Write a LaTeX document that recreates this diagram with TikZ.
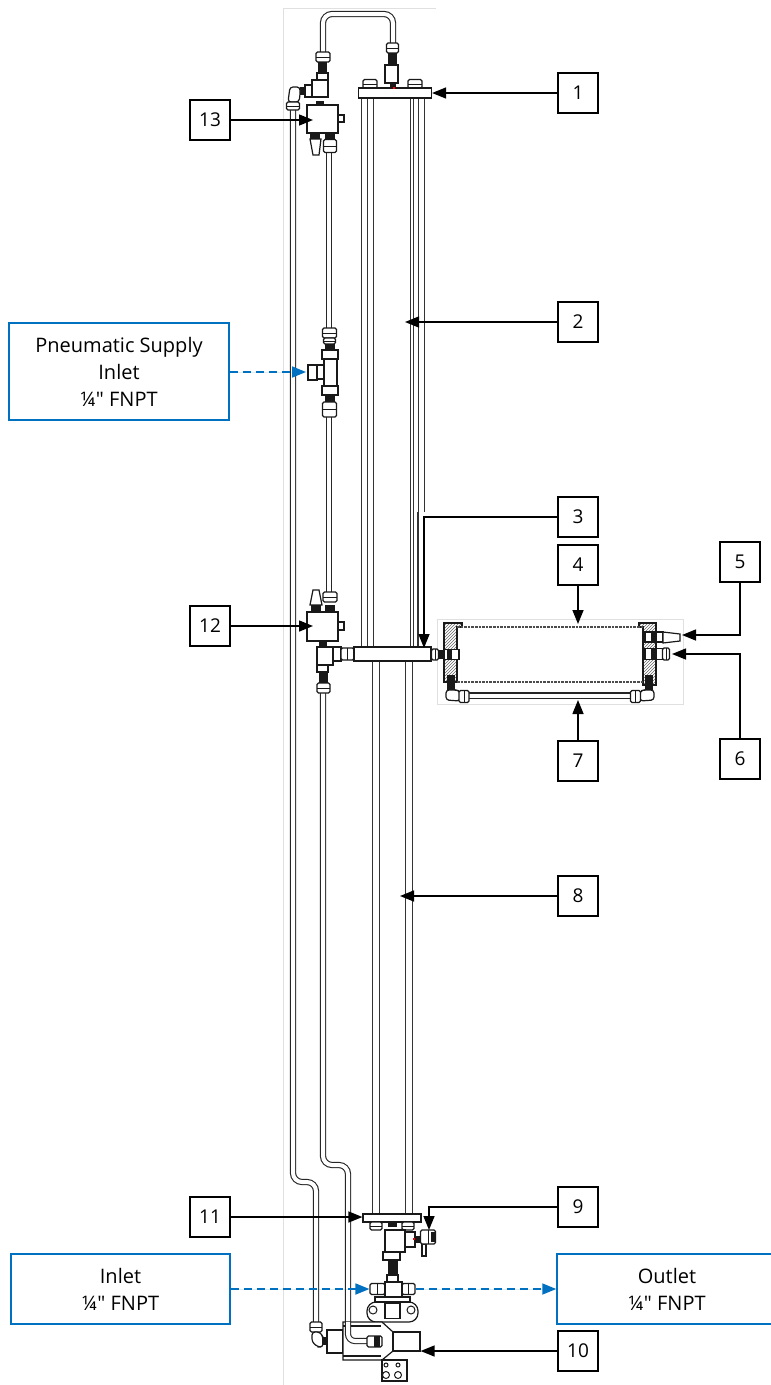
\documentclass[tikz,border=0pt]{standalone}
\usepackage{fontspec}
\setmainfont{Open Sans}[Ligatures=TeXOff]
\usepackage{xcolor}
\usepackage{tikz}
\usetikzlibrary{arrows.meta,patterns}
\definecolor{calloutblue}{HTML}{0070C0}

\begin{document}
\begin{tikzpicture}[
    x=1pt, y=-1pt,
    numbox/.style={rectangle, draw, line width=1.5pt, fill=white, minimum width=40pt, minimum height=40pt, font=\fontsize{19}{22}\selectfont},
    callout/.style={rectangle, draw=calloutblue, line width=1.5pt, fill=white, align=center, font=\fontsize{20}{27}\selectfont},
    arrow/.style={-{Triangle[length=14pt,width=11pt]}, line width=1.5pt},
    bluearrow/.style={-{Triangle[length=14pt,width=11pt]}, draw=calloutblue, fill=calloutblue, line width=1.7pt, dash pattern=on 8pt off 5pt},
    part/.style 2 args={rectangle, draw=black!90, line width=1.2pt, fill=white, inner sep=0pt, minimum width=#1, minimum height=#2},
    blk/.style 2 args={rectangle, fill=black!90, inner sep=0pt, minimum width=#1, minimum height=#2},
    nutv/.style 2 args={part={#1}{#2}, rounded corners=1.5pt, path picture={\draw[black!90, line width=1pt] (path picture bounding box.west) -- (path picture bounding box.east);}},
    nuth/.style 2 args={part={#1}{#2}, rounded corners=1.5pt, path picture={\draw[black!90, line width=1pt] (path picture bounding box.north) -- (path picture bounding box.south);}},
    shell/.style={draw=black!90, line width=1.2pt, fill=white},
    tube/.style={draw=black!85, line width=1.1pt, double=white, double distance=4pt},
    rod/.style={draw=black!80, line width=1.1pt, double=white, double distance=#1},
    frame/.style={draw=black!12, line width=.8pt}
]
\useasboundingbox (0,0) rectangle (771,1385);

% Light frames
\draw[frame] (283,1385) -- (283,8) -- (436,8);
\draw[frame] (437,619) rectangle (683,704);

% Column rods
\draw[rod=4.5pt] (364.5,98) -- (364.5,647);
\draw[draw=black!80, line width=1.1pt] (373.5,98) -- (373.5,647);
\draw[rod=2.5pt] (412,98) -- (412,647);
\draw[rod=4.5pt] (421.5,98) -- (421.5,512);
\draw[draw=black!80, line width=1.1pt] (418,512) -- (418,647);
\draw[rod=6.5pt] (376,661) -- (376,1214);
\draw[rod=6.5pt] (409,661) -- (409,1214);

% Tubes
\draw[tube, rounded corners=9pt] (323,53) -- (323,14) -- (393,14) -- (393,44);
\draw[tube, rounded corners=9pt] (293,108) -- (293,1182) -- (316,1182) -- (316,1324);
\draw[tube, double distance=4.6pt] (329,150) -- (329,330);
\draw[tube, double distance=4.6pt] (329,415) -- (329,594);
\draw[tube, rounded corners=9pt] (323,690) -- (323,1165) -- (348,1165) -- (348,1341) -- (368,1341);
\draw[tube] (465,695.5) -- (634,695.5);

% Top flange
\node[nutv={14pt}{9pt}] (nuta) at (370,84) {};
\node[nutv={14pt}{9pt}] (nutb) at (415,84) {};
\node[part={73pt}{10pt}] (flange1) at (395,93) {};
\node[nutv={12pt}{10pt}] (fita) at (392.5,48) {};
\node[blk={9pt}{12pt}] (blka) at (392,59) {};
\node[part={13pt}{18pt}] (blocka) at (391.5,74) {};
\node[blk={6pt}{5pt}] (blkb) at (393,85.5) {};
\node[rectangle, fill=red, inner sep=0pt, minimum size=2pt] (reda) at (394,88) {};

% Upper manifold 13
\node[nutv={14pt}{10pt}] (fitb) at (323,57) {};
\node[blk={9pt}{10pt}] (blkc) at (322,67) {};
\node[part={11pt}{7pt}] (blockb) at (322.5,76.5) {};
\node[part={16pt}{17pt}] (teea) at (320,88.5) {};
\node[part={7pt}{12pt}] (teeb) at (308.5,91) {};
\node[blk={5pt}{8pt}] (blkd) at (302.5,91) {};
\draw[shell, rounded corners=3pt] (300,87) -- (290,87) -- (288,102) -- (299,102) -- (300,95) -- cycle;
\node[nutv={13pt}{8pt}] (fitc) at (293,106) {};
\node[blk={8pt}{4pt}] (blke) at (320,103) {};
\node[part={31pt}{28pt}] (man13) at (322.5,119) {};
\node[part={6pt}{7pt}] (nuba) at (341,118.5) {};
\node[blk={10pt}{6pt}] (blkf) at (315,136) {};
\node[blk={10pt}{6pt}] (blkg) at (330,136) {};
\draw[shell] (310,139) -- (321,139) -- (319,155) -- (313,155) -- cycle;
\node[nutv={13pt}{13pt}] (fitd) at (330,146) {};

% Pneumatic tee
\node[nutv={14pt}{10pt}] (fite) at (329.5,333) {};
\node[nutv={12pt}{6pt}] (fitf) at (329.5,341) {};
\node[blk={10pt}{7pt}] (blkh) at (329.5,347) {};
\node[part={16pt}{9pt}] (blockc) at (330,354.5) {};
\node[part={13pt}{27pt}] (teec) at (330.5,372.5) {};
\node[part={7pt}{14pt}] (teed) at (320.5,372) {};
\node[part={9pt}{15pt}] (stub) at (312.5,372.5) {};
\node[part={16pt}{9pt}] (blockd) at (330,390.5) {};
\node[blk={10pt}{7pt}] (blki) at (329.5,398.5) {};
\node[nutv={14pt}{15pt}] (fitg) at (329.5,409.5) {};

% Lower manifold 12
\node[nutv={14pt}{10pt}] (fith) at (330,597) {};
\draw[shell] (313,590) -- (319,590) -- (322,605) -- (310,605) -- cycle;
\node[blk={10pt}{7pt}] (blkj) at (316,608.5) {};
\node[blk={10pt}{7pt}] (blkk) at (330,608.5) {};
\node[part={31pt}{29pt}] (man12) at (322.5,626.5) {};
\node[part={6pt}{8pt}] (nubb) at (341,626) {};
\node[blk={8pt}{6pt}] (blkl) at (323,644) {};
\node[part={16pt}{18pt}] (teee) at (325,656) {};
\node[part={8pt}{14pt}] (teef) at (337,654) {};
\node[nuth={13pt}{12pt}] (fiti) at (347.5,654) {};
\node[part={11pt}{7pt}] (blocke) at (322.5,668.5) {};
\node[blk={9pt}{11pt}] (blkm) at (323,677.5) {};
\node[nutv={13pt}{10pt}] (fitj) at (323.5,688) {};

% Middle flange and side chamber
\node[part={77pt}{14pt}] (flange2) at (392.5,654) {};
\node[nuth={7pt}{11pt}] (fitk) at (435,654.5) {};
\node[blk={8pt}{9pt}] (blkn) at (442,654.5) {};
\draw[shell, pattern=north east lines, pattern color=black!60] (444,623) -- (462,623) -- (462,627) -- (457,627) -- (457,682) -- (444,682) -- cycle;
\draw[shell, pattern=north east lines, pattern color=black!60] (656,623) -- (639,623) -- (639,627) -- (643,627) -- (643,685) -- (656,685) -- cycle;
\draw[draw=black!70, line width=2.6pt, densely dotted] (457,627) -- (643,627);
\draw[draw=black!70, line width=2.6pt, densely dotted] (457,682) -- (643,682);
\node[part={15pt}{10pt}] (fitl) at (451.5,654.5) {};
\node[blk={5pt}{9pt}] (blko) at (449,654.5) {};
\node[part={18pt}{10pt}] (fitm) at (654,637) {};
\node[blk={6pt}{10pt}] (blkp) at (654,637) {};
\draw[shell] (663,632) -- (680,634) -- (680,641) -- (663,643) -- cycle;
\node[part={18pt}{11pt}] (fitn) at (654,654) {};
\node[blk={6pt}{11pt}] (blkq) at (654,654) {};
\node[nuth={7pt}{12pt}] (fito) at (666,654) {};
\node[blk={8pt}{15pt}] (blkr) at (451,682.5) {};
\node[blk={8pt}{15pt}] (blks) at (649,682.5) {};
\draw[shell, rounded corners=3pt] (446,690) -- (446,700) -- (460,701) -- (460,691) -- (456,690) -- cycle;
\draw[shell, rounded corners=3pt] (654,690) -- (654,700) -- (640,701) -- (640,691) -- (644,690) -- cycle;
\node[nuth={10pt}{12pt}] (fitp) at (464,696.5) {};
\node[nuth={10pt}{12pt}] (fitq) at (635.5,696.5) {};

% Bottom flange and valve
\node[part={58pt}{8pt}] (flange3) at (392,1218) {};
\node[nutv={12pt}{8pt}] (nutc) at (376,1226) {};
\node[nutv={12pt}{8pt}] (nutd) at (408,1226) {};
\node[blk={9pt}{5pt}] (blkt) at (392.5,1224) {};
\node[part={20pt}{22pt}] (teeg) at (395,1241) {};
\node[part={10pt}{15pt}] (teeh) at (410,1239.5) {};
\node[blk={6pt}{7pt}] (blku) at (417,1239) {};
\node[rectangle, fill=red, inner sep=0pt, minimum size=2pt] (redb) at (414,1239) {};
\node[part={4pt}{12pt}] (handle) at (424,1250) {};
\node[nuth={15pt}{14pt}] (fitr) at (428,1237) {};
\node[blk={5pt}{10pt}] (blkv) at (433,1237) {};
\node[part={17pt}{8pt}] (blockf) at (391.5,1256) {};
\node[blk={10pt}{15pt}] (blkw) at (393,1267.5) {};
\node[part={11pt}{7pt}] (blockg) at (392.5,1278.5) {};
\node[nuth={15pt}{11pt}] (fitinlet) at (377.5,1289) {};
\node[nuth={13pt}{11pt}] (fitoutlet) at (408.5,1289) {};
\node[part={17pt}{15pt}] (valve) at (393.5,1289.5) {};
\draw[shell, rounded corners=9pt] (367,1302) rectangle (418,1322);
\node[part={35pt}{5pt}] (plate) at (392.5,1299.5) {};
\node[circle, draw=black!90, line width=1pt, inner sep=0pt, minimum size=8pt] (bolta) at (373,1310) {};
\node[circle, draw=black!90, line width=1pt, inner sep=0pt, minimum size=8pt] (boltb) at (411,1310) {};
\node[part={15pt}{15pt}] (blockh) at (392.5,1311) {};

% Actuator
\node[nutv={12pt}{10pt}] (fits) at (316,1327) {};
\draw[shell, rounded corners=3pt] (312,1332) -- (312,1342) -- (318,1347) -- (323,1347) -- (323,1337) -- (320,1332) -- cycle;
\node[blk={5pt}{8pt}] (blkx) at (324.5,1341) {};
\node[part={16pt}{23pt}] (bodya) at (335,1341.5) {};
\draw[shell] (343,1322) -- (382,1322) -- (393,1332) -- (393,1351) -- (382,1360) -- (343,1360) -- cycle;
\draw[draw=black!90, line width=1.1pt] (343,1326) -- (381,1326) (343,1356) -- (381,1356);
\draw[tube, rounded corners=7pt] (348,1322) -- (348,1341) -- (368,1341);
\node[nuth={15pt}{11pt}] (fitt) at (374.5,1341.5) {};
\node[blk={5pt}{11pt}] (blky) at (377,1341.5) {};
\node[part={27pt}{19pt}] (box10) at (406.5,1341.5) {};
\node[part={25pt}{21pt}] (bracket) at (394.5,1370.5) {};
\node[circle, draw=black!90, line width=1pt, inner sep=0pt, minimum size=7pt] (boltc) at (386,1375) {};
\node[circle, draw=black!90, line width=1pt, inner sep=0pt, minimum size=7pt] (boltd) at (398,1375) {};
\node[circle, draw=black!90, line width=1pt, inner sep=0pt, minimum size=4pt] (bolte) at (386,1365) {};
\node[circle, draw=black!90, line width=1pt, inner sep=0pt, minimum size=4pt] (boltf) at (398,1365) {};

% Number boxes
\node[numbox] (n1) at (578,93) {1};
\node[numbox] (n2) at (578,322) {2};
\node[numbox] (n3) at (578,517) {3};
\node[numbox] (n4) at (578,565) {4};
\node[numbox] (n5) at (740,562) {5};
\node[numbox] (n6) at (740,759) {6};
\node[numbox] (n7) at (578,761) {7};
\node[numbox] (n8) at (578,896) {8};
\node[numbox] (n9) at (578,1207) {9};
\node[numbox] (n10) at (578,1351) {10};
\node[numbox] (n11) at (210,1217) {11};
\node[numbox] (n12) at (210,626) {12};
\node[numbox] (n13) at (210,120) {13};

% Callouts
\node[callout, minimum width=220pt, minimum height=97pt] (pneu) at (119,371.5) {Pneumatic Supply\\Inlet\\¼" FNPT};
\node[callout, minimum width=219pt, minimum height=70pt] (inlet) at (120.5,1289) {Inlet\\¼" FNPT};
\node[callout, minimum width=220pt, minimum height=70pt] (outlet) at (667,1289) {Outlet\\¼" FNPT};

% Arrow ends
\coordinate (tip2) at (405,322);
\coordinate (tip3) at (424,648);
\coordinate (tip4) at (578,624);
\coordinate (tip5) at (682,635);
\coordinate (tip6) at (672,654);
\coordinate (tip7) at (578,700);
\coordinate (tip8) at (400,896);
\coordinate (tip9) at (429,1230);
\coordinate (tip12) at (313,626);
\coordinate (tip13) at (313,120);
\coordinate (tipp) at (306,372);

% Arrows
\draw[arrow] (n1) -- (flange1);
\draw[arrow] (n2) -- (tip2);
\draw[arrow] (n3.west) -| (tip3);
\draw[arrow] (n4) -- (tip4);
\draw[arrow] (n5.south) |- (tip5);
\draw[arrow] (n6.north) |- (tip6);
\draw[arrow] (n7) -- (tip7);
\draw[arrow] (n8) -- (tip8);
\draw[arrow] (n9.west) -| (tip9);
\draw[arrow] (n10.west) -- (box10.east |- n10.west);
\draw[arrow] (n11) -- (flange3.west |- n11);
\draw[arrow] (n12) -- (tip12);
\draw[arrow] (n13) -- (tip13);
\draw[bluearrow] (pneu.east |- tipp) -- (tipp);
\draw[bluearrow] (inlet) -- (fitinlet);
\draw[bluearrow] (fitoutlet) -- (outlet);

\end{tikzpicture}
\end{document}
